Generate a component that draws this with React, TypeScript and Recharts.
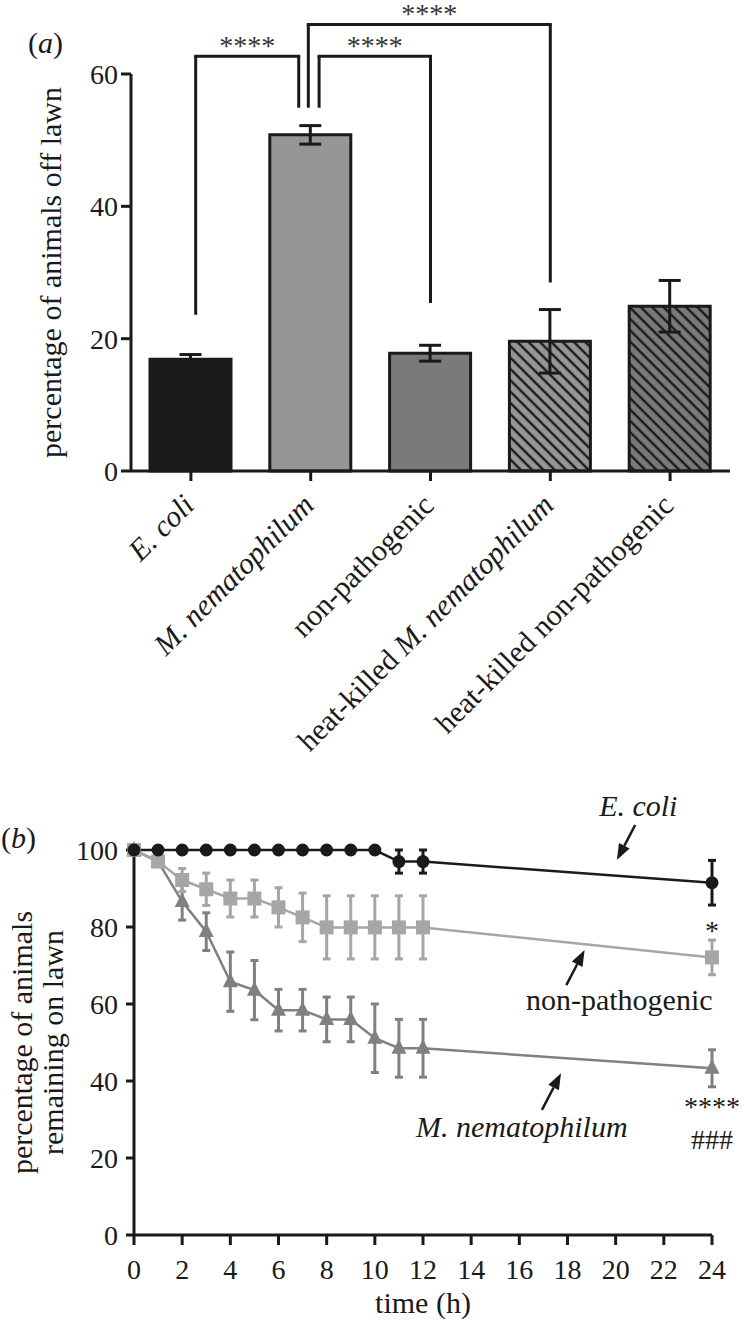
import React from "react";
import {
  BarChart,
  Bar,
  Cell,
  ErrorBar,
  XAxis,
  YAxis,
  ReferenceLine,
  ReferenceDot,
  LineChart,
  Line,
} from "recharts";

const FONT = "'Liberation Serif', 'Times New Roman', serif";
const INK = "#1a1a1a";

// ---- panel (a): animals off lawn ----
const strains = [
  "E. coli",
  "M. nematophilum",
  "non-pathogenic",
  "heat-killed M. nematophilum",
  "heat-killed non-pathogenic",
];
const offLawn = [16.9, 50.8, 17.8, 19.6, 24.9];
const offLawnSem = [0.7, 1.4, 1.2, 4.8, 3.9];
const barFills = ["#1a1a1a", "#969696", "#7a7a7a", "url(#hatchLight)", "url(#hatchDark)"];
const speciesNames = ["E. coli", "M. nematophilum"];
const offLawnTicks = [0, 20, 40, 60];

// significance brackets in data units (x = bar index, y = percentage)
const brackets = [
  { xl: 0.04, yl: 23.6, xr: 0.9, yr: 54.9, top: 62.7, label: "****" },
  { xl: 1.07, yl: 54.9, xr: 2.0, yr: 25.4, top: 62.7, label: "****" },
  { xl: 0.98, yl: 54.9, xr: 3.0, yr: 28.5, top: 67.5, label: "****" },
];

// ---- panel (b): animals remaining on lawn ----
const hours = [0, 1, 2, 3, 4, 5, 6, 7, 8, 9, 10, 11, 12, 24];
const ecoli = [100, 100, 100, 100, 100, 100, 100, 100, 100, 100, 100, 97, 97, 91.5];
const ecoliErr = [0, 0, 0, 0, 0, 0, 0, 0, 0, 0, 0, 3, 3, 5.8];
const nonPath = [100, 97, 92.2, 89.8, 87.4, 87.4, 85.1, 82.5, 79.9, 79.9, 79.9, 79.9, 79.9, 72.1];
const nonPathErr = [0, 1, 3, 4.2, 4.8, 4.8, 5.1, 6.3, 8.2, 8.2, 8.2, 8.2, 8.2, 4.5];
const mNem = [100, 97, 86.6, 78.8, 65.8, 63.6, 58.4, 58.4, 56, 56, 51.1, 48.5, 48.5, 43.3];
const mNemErr = [0, 1, 4.8, 4.9, 7.7, 7.7, 5.4, 5.4, 5.8, 5.8, 8.9, 7.5, 7.5, 4.8];
const hourTicks = [0, 2, 4, 6, 8, 10, 12, 14, 16, 18, 20, 22, 24];
const remainTicks = [0, 20, 40, 60, 80, 100];

const arrows = [
  { from: [20.81, 106.5], to: [20.05, 97.4] },
  { from: [17.95, 64.9], to: [18.71, 74.0] },
  { from: [16.94, 32.5], to: [17.73, 42.0] },
];
const notes = [
  { t: 20.94, v: 108.8, text: "E. coli", italic: true, size: 30 },
  { t: 20.15, v: 58.4, text: "non-pathogenic", italic: false, size: 30 },
  { t: 16.1, v: 25.5, text: "M. nematophilum", italic: true, size: 30 },
  { t: 24, v: 76.6, text: "*", italic: false, size: 28 },
  { t: 24, v: 30.8, text: "****", italic: false, size: 28 },
  { t: 24, v: 22.4, text: "###", italic: false, size: 28 },
];

const barData = strains.map((name, i) => ({
  pos: i,
  name,
  value: offLawn[i],
  err: offLawnSem[i],
}));

const timeData = hours.map((t, i) => ({
  t,
  ecoli: ecoli[i],
  ecoliErr: ecoliErr[i],
  nonPath: nonPath[i],
  nonPathErr: nonPathErr[i],
  mNem: mNem[i],
  mNemErr: mNemErr[i],
}));

function splitItalic(label: string) {
  for (const sp of speciesNames) {
    const k = label.indexOf(sp);
    if (k >= 0) {
      return [
        { text: label.slice(0, k), italic: false },
        { text: sp, italic: true },
        { text: label.slice(k + sp.length), italic: false },
      ].filter((p) => p.text.length > 0);
    }
  }
  return [{ text: label, italic: false }];
}

function StrainTick(props: any) {
  const { x, y, payload } = props;
  const ax = x + 5;
  const ay = y + 24;
  const parts = splitItalic(strains[payload.value] ?? "");
  return (
    <text
      x={ax}
      y={ay}
      textAnchor="end"
      transform={`rotate(-45, ${ax}, ${ay})`}
      fontSize={30}
      fontFamily={FONT}
      fill={INK}
    >
      {parts.map((p, i) => (
        <tspan key={i} fontStyle={p.italic ? "italic" : "normal"}>
          {p.text}
        </tspan>
      ))}
    </text>
  );
}

const Segment = (props: any) => (
  <line
    x1={props.x1}
    y1={props.y1}
    x2={props.x2}
    y2={props.y2}
    stroke={INK}
    strokeWidth={3}
    strokeLinecap="butt"
  />
);

const topSegment = (label: string) => (props: any) => (
  <g>
    <line
      x1={props.x1 - 1.5}
      y1={props.y1}
      x2={props.x2 + 1.5}
      y2={props.y2}
      stroke={INK}
      strokeWidth={3}
    />
    <text
      x={(props.x1 + props.x2) / 2}
      y={props.y1 - 1}
      textAnchor="middle"
      fontSize={28}
      fontFamily={FONT}
      fill="#333"
    >
      {label}
    </text>
  </g>
);

const ArrowShape = (props: any) => {
  const { x1, y1, x2, y2 } = props;
  const ang = Math.atan2(y2 - y1, x2 - x1);
  const L = 16;
  const W = 6;
  const bx = x2 - L * Math.cos(ang);
  const by = y2 - L * Math.sin(ang);
  const px = -Math.sin(ang) * W;
  const py = Math.cos(ang) * W;
  return (
    <g>
      <line x1={x1} y1={y1} x2={bx} y2={by} stroke={INK} strokeWidth={2.5} />
      <polygon
        points={`${x2},${y2} ${bx + px},${by + py} ${bx - px},${by - py}`}
        fill={INK}
      />
    </g>
  );
};

const noteShape = (text: string, italic: boolean, size: number) => (props: any) => (
  <text
    x={props.cx}
    y={props.cy}
    textAnchor="middle"
    fontSize={size}
    fontStyle={italic ? "italic" : "normal"}
    fontFamily={FONT}
    fill={INK}
  >
    {text}
  </text>
);

const CircleDot = (props: any) => {
  const { cx, cy, index } = props;
  if (cx == null || cy == null) return <g key={index} />;
  return <circle key={index} cx={cx} cy={cy} r={6.5} fill={INK} />;
};

const SquareDot = (props: any) => {
  const { cx, cy, index } = props;
  if (cx == null || cy == null) return <g key={index} />;
  return <rect key={index} x={cx - 7} y={cy - 7} width={14} height={14} fill="#a6a6a6" />;
};

const TriangleDot = (props: any) => {
  const { cx, cy, index } = props;
  if (cx == null || cy == null) return <g key={index} />;
  return (
    <polygon
      key={index}
      points={`${cx},${cy - 9} ${cx + 7.5},${cy + 5.5} ${cx - 7.5},${cy + 5.5}`}
      fill="#808080"
    />
  );
};

const tickStyle = { fill: INK, fontSize: 28, fontFamily: FONT };

export default function App() {
  return (
    <div
      style={{
        position: "absolute",
        left: 0,
        top: 0,
        width: 742,
        height: 1320,
        background: "#fff",
        fontFamily: FONT,
        color: INK,
      }}
    >
      <div style={{ position: "absolute", left: 28, top: 26, fontSize: 30, lineHeight: "34px" }}>
        (<i>a</i>)
      </div>
      <div style={{ position: "absolute", left: 1, top: 821, fontSize: 30, lineHeight: "34px" }}>
        (<i>b</i>)
      </div>

      <div style={{ position: "absolute", left: 0, top: 0 }}>
        <BarChart
          width={742}
          height={780}
          data={barData}
          margin={{ top: 74, right: 12, bottom: 20, left: 71 }}
        >
          <defs>
            <pattern
              id="hatchLight"
              patternUnits="userSpaceOnUse"
              width={8}
              height={8}
              patternTransform="rotate(-45)"
            >
              <rect width={8} height={8} fill="#969696" />
              <line x1={4} y1={0} x2={4} y2={8} stroke={INK} strokeWidth={2.4} />
            </pattern>
            <pattern
              id="hatchDark"
              patternUnits="userSpaceOnUse"
              width={8}
              height={8}
              patternTransform="rotate(-45)"
            >
              <rect width={8} height={8} fill="#7a7a7a" />
              <line x1={4} y1={0} x2={4} y2={8} stroke={INK} strokeWidth={2.4} />
            </pattern>
          </defs>
          <XAxis
            type="number"
            dataKey="pos"
            domain={[-0.5, 4.5]}
            ticks={[0, 1, 2, 3, 4]}
            interval={0}
            height={289}
            tickSize={10}
            tickMargin={2}
            axisLine={{ stroke: INK, strokeWidth: 3 }}
            tickLine={{ stroke: INK, strokeWidth: 3 }}
            tick={<StrainTick />}
          />
          <YAxis
            domain={[0, 60]}
            ticks={offLawnTicks}
            width={60}
            tickSize={10}
            tickMargin={3}
            axisLine={{ stroke: INK, strokeWidth: 3 }}
            tickLine={{ stroke: INK, strokeWidth: 3 }}
            tick={tickStyle}
            label={{
              content: (p: any) => {
                const vb = p.viewBox;
                const lx = vb.x - 10;
                const ly = vb.y + vb.height / 2;
                return (
                  <text
                    x={lx}
                    y={ly}
                    textAnchor="middle"
                    transform={`rotate(-90, ${lx}, ${ly})`}
                    fontSize={30}
                    fontFamily={FONT}
                    fill={INK}
                  >
                    percentage of animals off lawn
                  </text>
                );
              },
            }}
          />
          <Bar
            dataKey="value"
            barSize={81}
            stroke={INK}
            strokeWidth={3}
            isAnimationActive={false}
          >
            {barData.map((d, i) => (
              <Cell key={d.name} fill={barFills[i]} />
            ))}
            <ErrorBar dataKey="err" width={11} stroke={INK} strokeWidth={3} direction="y" />
          </Bar>
          {brackets.map((b, i) => (
            <ReferenceLine
              key={`l${i}`}
              segment={[
                { x: b.xl, y: b.yl },
                { x: b.xl, y: b.top },
              ]}
              ifOverflow="visible"
              shape={Segment}
            />
          ))}
          {brackets.map((b, i) => (
            <ReferenceLine
              key={`r${i}`}
              segment={[
                { x: b.xr, y: b.yr },
                { x: b.xr, y: b.top },
              ]}
              ifOverflow="visible"
              shape={Segment}
            />
          ))}
          {brackets.map((b, i) => (
            <ReferenceLine
              key={`t${i}`}
              segment={[
                { x: b.xl, y: b.top },
                { x: b.xr, y: b.top },
              ]}
              ifOverflow="visible"
              shape={topSegment(b.label)}
            />
          ))}
        </BarChart>
      </div>

      <div style={{ position: "absolute", left: 0, top: 780 }}>
        <LineChart
          width={742}
          height={540}
          data={timeData}
          margin={{ top: 70, right: 30, bottom: 0, left: 74 }}
        >
          <XAxis
            type="number"
            dataKey="t"
            domain={[0, 24]}
            ticks={hourTicks}
            interval={0}
            height={85}
            tickSize={10}
            tickMargin={14}
            axisLine={{ stroke: INK, strokeWidth: 3 }}
            tickLine={{ stroke: INK, strokeWidth: 3 }}
            tick={tickStyle}
            label={{
              content: (p: any) => {
                const vb = p.viewBox;
                return (
                  <text
                    x={vb.x + vb.width / 2}
                    y={vb.y + 78}
                    textAnchor="middle"
                    fontSize={30}
                    fontFamily={FONT}
                    fill={INK}
                  >
                    time (h)
                  </text>
                );
              },
            }}
          />
          <YAxis
            domain={[0, 100]}
            ticks={remainTicks}
            width={60}
            tickSize={8}
            tickMargin={8}
            axisLine={{ stroke: INK, strokeWidth: 3 }}
            tickLine={{ stroke: INK, strokeWidth: 3 }}
            tick={tickStyle}
            label={{
              content: (p: any) => {
                const vb = p.viewBox;
                const ly = vb.y + vb.height / 2;
                const x1 = vb.x - 42;
                const x2 = vb.x - 11;
                return (
                  <g fontSize={30} fontFamily={FONT} fill={INK}>
                    <text x={x1} y={ly} textAnchor="middle" transform={`rotate(-90, ${x1}, ${ly})`}>
                      percentage of animals
                    </text>
                    <text x={x2} y={ly} textAnchor="middle" transform={`rotate(-90, ${x2}, ${ly})`}>
                      remaining on lawn
                    </text>
                  </g>
                );
              },
            }}
          />
          <Line
            dataKey="mNem"
            stroke="#808080"
            strokeWidth={2.5}
            dot={<TriangleDot />}
            activeDot={false}
            isAnimationActive={false}
          >
            <ErrorBar dataKey="mNemErr" width={4} stroke="#808080" strokeWidth={3} direction="y" />
          </Line>
          <Line
            dataKey="nonPath"
            stroke="#a6a6a6"
            strokeWidth={2.5}
            dot={<SquareDot />}
            activeDot={false}
            isAnimationActive={false}
          >
            <ErrorBar dataKey="nonPathErr" width={4} stroke="#a6a6a6" strokeWidth={3} direction="y" />
          </Line>
          <Line
            dataKey="ecoli"
            stroke={INK}
            strokeWidth={2.5}
            dot={<CircleDot />}
            activeDot={false}
            isAnimationActive={false}
          >
            <ErrorBar dataKey="ecoliErr" width={4} stroke={INK} strokeWidth={3} direction="y" />
          </Line>
          {arrows.map((a, i) => (
            <ReferenceLine
              key={`a${i}`}
              segment={[
                { x: a.from[0], y: a.from[1] },
                { x: a.to[0], y: a.to[1] },
              ]}
              ifOverflow="visible"
              shape={ArrowShape}
            />
          ))}
          {notes.map((n, i) => (
            <ReferenceDot
              key={`n${i}`}
              x={n.t}
              y={n.v}
              ifOverflow="visible"
              shape={noteShape(n.text, n.italic, n.size)}
            />
          ))}
        </LineChart>
      </div>
    </div>
  );
}
